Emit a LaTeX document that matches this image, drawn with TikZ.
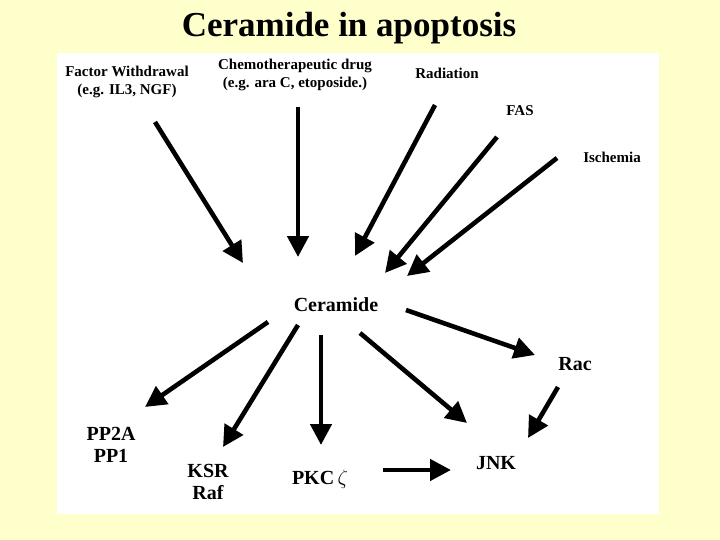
\documentclass[tikz,border=0pt]{standalone}
\usepackage{fontspec}
\setmainfont{Liberation Serif}
\usetikzlibrary{arrows.meta}
\definecolor{bgyellow}{RGB}{255,255,204}
\tikzset{
  arr/.style={line width=4.6pt,-{Triangle[length=21pt,width=21pt]}},
  small/.style={inner sep=0pt,align=center,font=\fontsize{15}{17.5}\selectfont\bfseries},
  big/.style={inner sep=0pt,align=center,font=\fontsize{20}{21.5}\selectfont\bfseries},
}
\begin{document}
\begin{tikzpicture}[x=1pt,y=-1pt]
\useasboundingbox (0,0) rectangle (720,540);
\fill[bgyellow] (0,0) rectangle (720,540);
\fill[white] (57,53) rectangle (659,514);
\node[inner sep=0pt,anchor=base,font=\fontsize{35}{40}\selectfont\bfseries] (title) at (349,37) {Ceramide in apoptosis};
% labels
\node[small] (factor) at (127,82) {Factor Withdrawal\\(e.g. IL3, NGF)};
\node[small] (chemo) at (295,75) {Chemotherapeutic drug\\(e.g. ara C, etoposide.)};
\node[small] (rad) at (447,73) {Radiation};
\node[small] (fas) at (520,111) {FAS};
\node[small] (isch) at (612,157) {Ischemia};
\node[big] (cer) at (336,305) {Ceramide};
\node[big] (rac) at (575,364) {Rac};
\node[big] (pp) at (111,445) {PP2A\\PP1};
\node[big] (ksr) at (208,482) {KSR\\Raf};
\node[big] (pkc) at (320,479) {PKC\,{\mdseries$\zeta$}};
\node[big] (jnk) at (496,463) {JNK};
% arrow endpoints
\coordinate (f1) at (155,122); \coordinate (f2) at (243,263);
\coordinate (c1) at (298,107); \coordinate (c2) at (298,257);
\coordinate (r1) at (435,105); \coordinate (r2) at (355,256);
\coordinate (s1) at (497,137); \coordinate (s2) at (385,273);
\coordinate (i1) at (557,158); \coordinate (i2) at (407,276);
\coordinate (a1) at (406,310); \coordinate (a2) at (535,355);
\coordinate (j1) at (360,333); \coordinate (j2) at (467,423);
\coordinate (q1) at (558,387); \coordinate (q2) at (528,438);
\coordinate (k1) at (383,470); \coordinate (k2) at (451,470);
\coordinate (p1) at (321,335); \coordinate (p2) at (321,445);
\coordinate (m1) at (298,325); \coordinate (m2) at (223,447);
\coordinate (n1) at (268,322); \coordinate (n2) at (145,407);
\draw[arr] (f1) -- (f2);
\draw[arr] (c1) -- (c2);
\draw[arr] (r1) -- (r2);
\draw[arr] (s1) -- (s2);
\draw[arr] (i1) -- (i2);
\draw[arr] (a1) -- (a2);
\draw[arr] (j1) -- (j2);
\draw[arr] (q1) -- (q2);
\draw[arr] (k1) -- (k2);
\draw[arr] (p1) -- (p2);
\draw[arr] (m1) -- (m2);
\draw[arr] (n1) -- (n2);
\end{tikzpicture}
\end{document}
